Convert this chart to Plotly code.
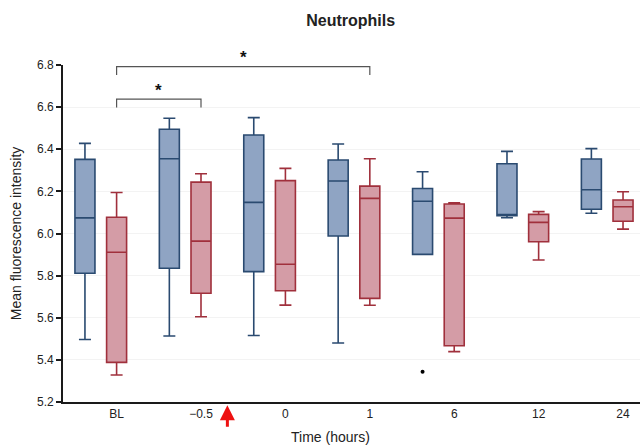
import plotly.graph_objects as go

categories = ["BL", "\u22120.5", "0", "1", "6", "12", "24"]

# Group A (blue)
a_low = [5.497, 5.513, 5.516, 5.480, 5.901, 6.075, 6.096]
a_q1 = [5.811, 5.835, 5.819, 5.988, 5.901, 6.085, 6.115]
a_med = [6.074, 6.355, 6.148, 6.249, 6.153, 6.090, 6.208]
a_q3 = [6.352, 6.495, 6.468, 6.349, 6.214, 6.331, 6.354]
a_high = [6.428, 6.547, 6.550, 6.425, 6.293, 6.390, 6.403]

# Group B (red)
b_low = [5.328, 5.605, 5.660, 5.659, 5.439, 5.874, 6.021]
b_q1 = [5.388, 5.716, 5.728, 5.692, 5.467, 5.961, 6.058]
b_med = [5.911, 5.964, 5.854, 6.167, 6.073, 6.053, 6.127]
b_q3 = [6.077, 6.244, 6.251, 6.225, 6.140, 6.091, 6.159]
b_high = [6.195, 6.284, 6.309, 6.355, 6.146, 6.104, 6.198]

# Outliers: (category index, value) for group A
outlier_cat = [4]
outlier_val = [5.344]

# Significance comparisons between group-B boxes: (from idx, to idx)
comparisons = [(0, 3), (0, 1)]

OFFSET = 0.375
BOXW = 0.237
xa = [i for i in range(len(categories))]
xb = [i + OFFSET for i in range(len(categories))]

fig = go.Figure()
fig.add_trace(go.Box(
    x=xa, q1=a_q1, median=a_med, q3=a_q3, lowerfence=a_low, upperfence=a_high,
    width=BOXW, whiskerwidth=0.6,
    fillcolor="#8fa4c3", line=dict(color="#2a4a70", width=1.6),
    boxpoints=False, showlegend=False, hoverinfo="skip"))
fig.add_trace(go.Box(
    x=xb, q1=b_q1, median=b_med, q3=b_q3, lowerfence=b_low, upperfence=b_high,
    width=BOXW, whiskerwidth=0.6,
    fillcolor="#d49ca6", line=dict(color="#a0303c", width=1.6),
    boxpoints=False, showlegend=False, hoverinfo="skip"))
fig.add_trace(go.Scatter(
    x=[xa[i] for i in outlier_cat], y=outlier_val, mode="markers",
    marker=dict(color="black", size=4), showlegend=False, hoverinfo="skip"))

levels = [6.792, 6.638]
tick = 0.04
for (i0, i1), lev in zip(comparisons, levels):
    x0, x1 = xb[i0], xb[i1]
    fig.add_shape(type="path",
                  path=f"M {x0},{lev - tick} L {x0},{lev} L {x1},{lev} L {x1},{lev - tick}",
                  xref="x", yref="y", line=dict(color="#555555", width=1.2))
    fig.add_annotation(x=(x0 + x1) / 2, y=lev, yshift=9, text="<b>*</b>", showarrow=False,
                       xref="x", yref="y", font=dict(size=17, color="#111111",
                                                     family="Liberation Sans"))

# Red arrow marking intervention time
arrow_x = (xb[1] + xa[2]) / 2
fig.add_annotation(x=arrow_x, y=-0.01, xref="x", yref="paper", text="",
                   showarrow=True, arrowhead=2, arrowsize=1.0, arrowwidth=3,
                   arrowcolor="#ee1111", ax=0, ay=23)

fig.add_annotation(x=0.463, y=-0.105, xref="paper", yref="paper", yanchor="middle",
                   text="Time (hours)", showarrow=False,
                   font=dict(size=14, color="#222222", family="Liberation Sans"))

fig.update_layout(
    width=640, height=447,
    margin=dict(l=63, r=0, t=65, b=45),
    plot_bgcolor="white", paper_bgcolor="white",
    title=dict(text="<b>Neutrophils</b>", x=0.548, xanchor="center", y=0.955,
               yanchor="middle", font=dict(size=16, color="#222222",
                                            family="Liberation Sans")),
    font=dict(family="Liberation Sans", color="#222222"),
)
fig.update_xaxes(range=[-0.26, 6.576], tickmode="array", tickvals=xb,
                 ticktext=categories, showgrid=False, zeroline=False,
                 showline=True, linecolor="#1a1a1a", linewidth=1.6,
                 ticks="", tickfont=dict(size=12, color="#222222"))
fig.update_yaxes(range=[5.2, 6.8], dtick=0.2, tickformat=".1f",
                 showgrid=True, gridcolor="#f3f3f3", gridwidth=1, zeroline=False,
                 showline=True, linecolor="#1a1a1a", linewidth=1.6,
                 ticks="outside", ticklen=5, tickwidth=1.5, tickcolor="#1a1a1a",
                 tickfont=dict(size=12, color="#222222"),
                 title=dict(text="Mean fluorescence intensity", standoff=12,
                            font=dict(size=14, color="#222222")))

fig.write_html("out.html")
